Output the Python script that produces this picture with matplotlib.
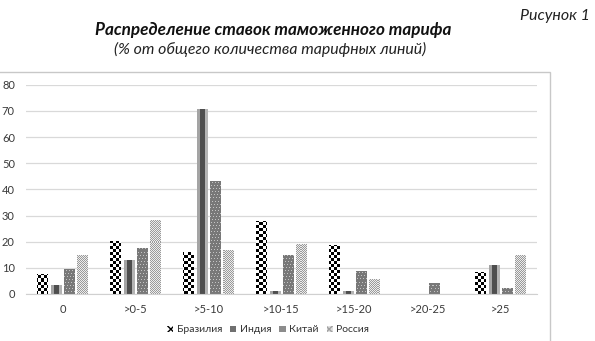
import matplotlib
matplotlib.use("Agg")
import matplotlib.pyplot as plt
import numpy as np
from matplotlib.patches import Rectangle
from matplotlib.colors import to_rgb

categories = ["0", ">0-5", ">5-10", ">10-15", ">15-20", ">20-25", ">25"]
series_names = ["Бразилия", "Индия", "Китай", "Россия"]
brazil = [7.7, 20.4, 16.0, 28.0, 18.7, 0, 8.4]
india = [3.3, 12.7, 70.7, 1.1, 1.1, 0, 10.8]
china = [9.4, 17.7, 43.2, 14.9, 8.8, 4.1, 2.2]
russia = [14.9, 28.3, 16.8, 19.1, 5.6, 0, 14.9]
yticks = [0, 10, 20, 30, 40, 50, 60, 70, 80]

plt.rcParams['font.family'] = ['Lato', 'DejaVu Sans']

W, H = 595, 341
fig = plt.figure(figsize=(W / 100, H / 100), dpi=100)

# chart frame
fig.patches.append(Rectangle((-0.01, -0.1), (550 + 6) / W, 1.1 - 71.5 / H,
                             transform=fig.transFigure, fill=False,
                             edgecolor='#c8c8c8', linewidth=1.0))

ax = fig.add_axes([26 / W, 1 - 294 / H, (537 - 26) / W, (294 - 84.7) / H])
XL = (-0.5, len(categories) - 0.5)
YL = (0, 80)

# pixel-level fill patterns (rows x cols ~ axes pixel size)
PH, PW = 210, 512
yy, xx = np.mgrid[0:PH, 0:PW]


def rgb_img(mask, c_on, c_off):
    a = np.empty((PH, PW, 3))
    a[:] = to_rgb(c_off)
    a[mask] = to_rgb(c_on)
    return a


checker = rgb_img(((yy // 3) + (xx // 3)) % 2 == 0, '#000000', '#ffffff')
dots = rgb_img(((yy % 3) == 0) & ((xx + (yy // 3)) % 3 == 0), '#c4c4c4', '#787878')
fine = rgb_img((yy + xx) % 2 == 0, '#9a9a9a', '#ececec')
patterns = [checker, None, dots, fine]
stripe_cols = ['#a4a4a4'] * 3 + ['#4e4e4e'] * 4 + ['#b4b4b4'] * 3

data = [brazil, india, china, russia]
x = np.arange(len(categories))
step = 0.182
width = 0.145
for i, vals in enumerate(data):
    bars = ax.bar(x + (i - 1.5) * step, vals, width, facecolor='none', linewidth=0, zorder=2)
    for p in bars:
        h = p.get_height()
        if h <= 0:
            continue
        if patterns[i] is not None:
            im = ax.imshow(patterns[i], extent=(XL[0], XL[1], YL[0], YL[1]), origin='upper',
                           aspect='auto', interpolation='nearest', zorder=2)
            im.set_clip_path(p)
        else:
            img = np.array([[to_rgb(c) for c in stripe_cols]])
            x0 = p.get_x()
            ax.imshow(img, extent=(x0, x0 + p.get_width(), 0, h), aspect='auto',
                      interpolation='nearest', zorder=2)

ax.set_xlim(*XL)
ax.set_ylim(*YL)
ax.set_yticks(yticks)
ax.set_xticks(x)
ax.set_xticklabels(categories)
ax.grid(axis='y', color='#d9d9d9', linewidth=0.9)
ax.set_axisbelow(True)
for s in ['top', 'right', 'left']:
    ax.spines[s].set_visible(False)
ax.spines['bottom'].set_color('#d0d0d0')
ax.tick_params(axis='both', length=0, labelsize=8, colors='#3a3a3a')
ax.tick_params(axis='y', pad=8)
ax.tick_params(axis='x', pad=7)

handles = [
    Rectangle((0, 0), 1, 1, facecolor='white', edgecolor='black', hatch='xxxx', linewidth=0),
    Rectangle((0, 0), 1, 1, facecolor='#707070', linewidth=0),
    Rectangle((0, 0), 1, 1, facecolor='#8c8c8c', linewidth=0),
    Rectangle((0, 0), 1, 1, facecolor='#e0e0e0', edgecolor='#a0a0a0', hatch='xxxx', linewidth=0),
]
fig.legend(handles=handles, labels=series_names, loc='center', ncol=4,
           bbox_to_anchor=(268 / W, 1 - 330 / H), frameon=False,
           fontsize=7.5, handlelength=0.6, handleheight=0.6, handletextpad=0.3,
           columnspacing=0.8, labelcolor='#333333')

fig.text(590 / W, 1 - 16 / H, "Рисунок 1", ha='right', va='center',
         fontsize=11.5, style='italic', color='#222222')
fig.text(273 / W, 1 - 30 / H, "Распределение ставок таможенного тарифа", ha='center',
         va='center', fontsize=12.3, style='italic', weight='bold', color='#111111')
fig.text(270 / W, 1 - 49 / H, "(% от общего количества тарифных линий)", ha='center',
         va='center', fontsize=11.4, style='italic', color='#222222')

fig.savefig("out.png", dpi=100)
